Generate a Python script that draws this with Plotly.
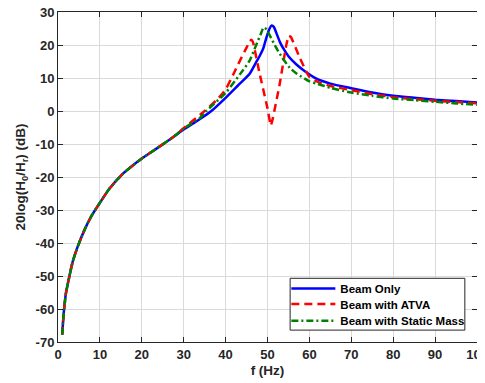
import plotly.graph_objects as go

# Beam only
f_beam = [1, 1.36, 1.9, 2.7, 3.5, 4.7, 6.3, 8, 10, 12.3, 15.5, 20, 23.5, 27.5, 30, 33.8, 36.6,
          40, 43, 45.7, 47.3, 48.1, 49, 49.7, 50.5, 51, 51.5, 52, 53, 53.7, 55, 56.9, 59, 61.7,
          65, 70, 75, 80, 85, 90, 95, 100]
h_beam = [-67.8, -61.3, -55.2, -50.2, -45.7, -41.1, -36.1, -31.8, -27.8, -23.5, -19, -14.4,
          -11.4, -7.9, -5.6, -2.5, 0, 4.0, 7.8, 11.2, 14.8, 16.6, 19, 22.1, 25, 25.9, 25.5, 24,
          20.8, 19.1, 16.6, 14.1, 12, 9.8, 8.3, 6.9, 5.6, 4.6, 4.0, 3.4, 3.0, 2.6]

# Beam with ATVA
f_atva = [1, 1.36, 1.9, 2.7, 3.5, 4.7, 6.3, 8, 10, 12.3, 15.5, 20, 23.5, 27.5, 30, 35, 38, 40,
          41.8, 43.4, 45, 45.7, 46.1, 46.5, 48, 50, 50.8, 51.3, 52.9, 54.5, 55.1, 55.6, 57.7,
          60, 62.4, 65, 70, 75, 80, 85, 90, 95, 100]
h_atva = [-67.8, -61.3, -55.2, -50.2, -45.7, -41.1, -36.1, -31.8, -27.8, -23.5, -19, -14.4,
          -11.4, -7.9, -5.2, 0, 3.5, 6.5, 11.0, 15.2, 19.2, 21.0, 21.6, 21.0, 12.0, 0.8, -4.4,
          -2.0, 8.1, 20.1, 22.8, 22.4, 16.1, 10.3, 8.6, 7.6, 6.3, 5.1, 4.2, 3.6, 3.1, 2.7, 2.3]

# Beam with Static Mass
f_mass = [1, 1.36, 1.9, 2.7, 3.5, 4.7, 6.3, 8, 10, 12.3, 15.5, 20, 23.5, 27.5, 30, 33.8, 35.4,
          40, 43.4, 45.7, 47.3, 48.3, 49.1, 49.8, 50.5, 52.1, 53.5, 55.3, 57, 60, 62, 65, 70,
          75, 80, 85, 90, 95, 100]
h_mass = [-67.8, -61.3, -55.2, -50.2, -45.7, -41.1, -36.1, -31.8, -27.8, -23.5, -19, -14.4,
          -11.4, -7.9, -5.3, -2.2, 0, 5.5, 11.1, 15.2, 20, 23, 25.3, 24.7, 23, 19.1, 16.2, 13.1,
          11.3, 9.0, 8.2, 7.0, 5.6, 4.6, 3.8, 3.3, 2.8, 2.3, 1.9]

x_ticks = [0, 10, 20, 30, 40, 50, 60, 70, 80, 90, 100]
y_ticks = [-70, -60, -50, -40, -30, -20, -10, 0, 10, 20, 30]

FONT = "Liberation Sans, Arial, sans-serif"
INK = "#262626"

fig = go.Figure()
fig.add_trace(go.Scatter(x=f_beam, y=h_beam, mode="lines", name="<b>Beam Only</b>",
                         line=dict(color="#0000FF", width=2.5, shape="spline", smoothing=0.6),
                         legend="legend"))
fig.add_trace(go.Scatter(x=f_atva, y=h_atva, mode="lines", name="<b>Beam with ATVA</b>",
                         line=dict(color="#FF0000", width=2.5, dash="8px,5px",
                                   shape="spline", smoothing=0.4),
                         legend="legend2"))
fig.add_trace(go.Scatter(x=f_mass, y=h_mass, mode="lines", name="<b>Beam with Static Mass</b>",
                         line=dict(color="#008000", width=2.5, dash="7px,3px,2px,3px",
                                   shape="spline", smoothing=0.6),
                         legend="legend3"))

axis_common = dict(showline=True, linecolor=INK, linewidth=1, mirror="ticks",
                   ticks="inside", ticklen=5, tickcolor=INK, automargin=False,
                   showgrid=True, gridcolor="#dadada", gridwidth=1, zeroline=False,
                   ticklabeloverflow="allow",
                   tickfont=dict(family=FONT, size=13, color=INK, weight="bold"))

fig.update_xaxes(range=[0, 100], tickvals=x_ticks, ticktext=[f"{v}" for v in x_ticks],
                 title=dict(text="<b>f (Hz)</b>", font=dict(family=FONT, size=13.5, color=INK),
                            standoff=4),
                 **axis_common)
fig.update_yaxes(range=[-70, 30], tickvals=y_ticks, ticktext=[f"{v}" for v in y_ticks],
                 title=dict(text="<b>20log(H<sub>0</sub>/H<sub>r</sub>) (dB)</b>",
                            font=dict(family=FONT, size=13.5, color=INK), standoff=6),
                 **axis_common)

leg_common = dict(xanchor="left", yanchor="middle", bgcolor="rgba(0,0,0,0)",
                  borderwidth=0, font=dict(family=FONT, size=11.5, color="black"),
                  itemwidth=44)

# page body has an 8px default margin, so the figure is 8px smaller than the window
fig.update_layout(
    width=477, height=375,
    margin=dict(l=50, r=8, t=4, b=41),
    paper_bgcolor="white", plot_bgcolor="white",
    showlegend=True,
    legend=dict(x=0.545, y=0.162, **leg_common),
    legend2=dict(x=0.545, y=0.115, **leg_common),
    legend3=dict(x=0.545, y=0.0645, **leg_common),
    shapes=[dict(type="rect", xref="paper", yref="paper", x0=0.554, x1=0.971,
                 y0=0.036, y1=0.193, fillcolor="white", line=dict(color=INK, width=1),
                 layer="above")],
)

fig.write_html("out.html")
